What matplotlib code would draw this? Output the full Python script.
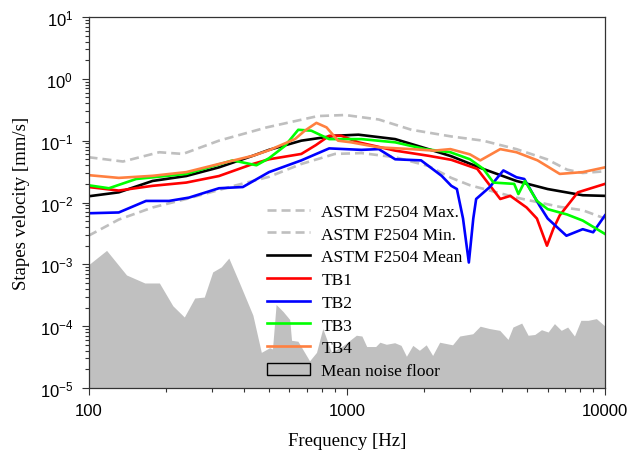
import numpy as np
import matplotlib
matplotlib.use("Agg")
import matplotlib.pyplot as plt
import matplotlib.patches as mpatches
from matplotlib.ticker import FuncFormatter, FixedLocator, NullFormatter

plt.rcParams['font.family'] = ['Liberation Serif', 'DejaVu Serif']
plt.rcParams['mathtext.fontset'] = 'custom'
plt.rcParams['mathtext.rm'] = 'Liberation Sans'
plt.rcParams['mathtext.it'] = 'Liberation Sans:italic'
plt.rcParams['mathtext.bf'] = 'Liberation Sans:bold'
plt.rcParams['lines.scale_dashes'] = False

# ASTM F2504 reference band
freq_max = [100, 136, 188, 232, 320, 490, 773, 985, 1330, 1780, 2540, 3370, 4540, 5960, 7130, 8200, 10000]
astm_max = [0.054, 0.046, 0.065, 0.061, 0.10, 0.164, 0.25, 0.26, 0.22, 0.15, 0.117, 0.10, 0.073, 0.05, 0.034, 0.03, 0.032]

freq_min = [100, 131, 177, 239, 373, 500, 667, 900, 1140, 1540, 2070, 2540, 3000, 4540, 6680, 8200, 10000]
astm_min = [0.0029, 0.0053, 0.0083, 0.0114, 0.019, 0.026, 0.042, 0.061, 0.063, 0.054, 0.039, 0.025, 0.019, 0.012, 0.0085, 0.0075, 0.0055]

freq_mean = [100, 131, 177, 239, 320, 433, 500, 667, 900, 1110, 1540, 2070, 2540, 3370, 4540, 6000, 8200, 10000]
astm_mean = [0.0126, 0.0146, 0.0223, 0.0268, 0.037, 0.057, 0.071, 0.10, 0.12, 0.125, 0.106, 0.073, 0.056, 0.035, 0.0223, 0.0165, 0.0131, 0.0128]

# temporal bone measurements
freq_tb1 = [100, 131, 177, 239, 320, 433, 500, 667, 760, 855, 952, 1110, 1540, 2070, 2540, 3200, 3930, 4300, 4970, 5450, 5960, 6300, 6680, 7850, 10000]
tb1 = [0.0178, 0.0156, 0.0186, 0.021, 0.0268, 0.042, 0.05, 0.061, 0.085, 0.12, 0.12, 0.094, 0.069, 0.057, 0.049, 0.035, 0.0114, 0.0128, 0.0083, 0.0055, 0.002, 0.0037, 0.0062, 0.0146, 0.02]

freq_tb2 = [100, 131, 167, 205, 245, 320, 396, 500, 667, 855, 1140, 1330, 1540, 1940, 2330, 2540, 2670, 2820, 2970, 3090, 3170, 3580, 4040, 4540, 4870, 5580, 6000, 7090, 8200, 9000, 10000]
tb2 = [0.0067, 0.0069, 0.0106, 0.0106, 0.012, 0.017, 0.0178, 0.031, 0.048, 0.075, 0.071, 0.073, 0.05, 0.048, 0.027, 0.0186, 0.0165, 0.0055, 0.00107, 0.0055, 0.0114, 0.0178, 0.033, 0.0256, 0.024, 0.0089, 0.0055, 0.0029, 0.0037, 0.0033, 0.0062]

freq_tb3 = [100, 120, 153, 239, 362, 447, 500, 576, 649, 729, 855, 1010, 1140, 1540, 2010, 2520, 3000, 3380, 3700, 4450, 4620, 4900, 5450, 6000, 7130, 8200, 10000]
tb3 = [0.019, 0.017, 0.024, 0.029, 0.048, 0.040, 0.052, 0.082, 0.15, 0.145, 0.106, 0.106, 0.106, 0.094, 0.073, 0.065, 0.05, 0.035, 0.021, 0.02, 0.0137, 0.0223, 0.0106, 0.0078, 0.0064, 0.0051, 0.0031]

freq_tb4 = [100, 131, 177, 239, 320, 433, 500, 630, 688, 763, 835, 925, 1040, 1330, 1780, 2180, 2520, 3000, 3290, 3930, 4540, 5480, 6680, 8200, 10000]
tb4 = [0.0277, 0.025, 0.027, 0.031, 0.042, 0.057, 0.07, 0.106, 0.145, 0.194, 0.164, 0.10, 0.094, 0.078, 0.073, 0.069, 0.073, 0.06, 0.048, 0.073, 0.065, 0.048, 0.029, 0.031, 0.037]

freq_noise = [100, 118, 141, 166, 189, 213, 236, 259, 282, 304, 328, 351, 386, 435, 469, 505, 518, 535, 569, 604,
              614, 650, 721, 767, 811, 877, 975, 1094, 1150, 1200, 1300, 1350, 1430, 1540, 1630, 1710, 1810, 1920, 2040, 2160,
              2300, 2580, 2750, 3090, 3300, 3580, 3930, 4230, 4420, 4780, 5060, 5370, 5700, 6050, 6400, 6800, 7200, 7650, 8100, 8640,
              9300, 10000]
noise = [0.00095, 0.00165, 0.00066, 0.00049, 0.00049, 0.00021, 0.000138, 0.00028, 0.00029, 0.00074,
         0.00089, 0.00124, 0.00049, 0.000148, 3.7e-5, 4.4e-5, 4.2e-5, 0.00022, 0.00017, 0.000126,
         5.8e-5, 5.6e-5, 2.7e-5, 3.7e-5, 9e-5, 3.7e-5, 4.8e-5, 7e-5, 6.8e-5, 4.6e-5,
         4.6e-5, 5.4e-5, 5e-5, 5.3e-5, 4.8e-5, 3.2e-5, 4.8e-5, 4.0e-5, 4.9e-5, 3.3e-5,
         5.4e-5, 4.9e-5, 6.8e-5, 7.4e-5, 9.8e-5, 9e-5, 8.4e-5, 6e-5, 9.5e-5, 1.1e-4,
         7e-5, 7.2e-5, 8.6e-5, 7.9e-5, 1.08e-4, 8.4e-5, 9.5e-5, 6.8e-5, 1.22e-4, 1.22e-4,
         1.3e-4, 1.0e-4]

x_ticks = [100, 1000, 10000]
y_ticks = [1e-5, 1e-4, 1e-3, 1e-2, 1e-1, 1, 10]

gray_fill = '#c0c0c0'
gray_dash = '#bfbfbf'
lw = 1.9

fig = plt.figure(figsize=(6.28, 4.6), dpi=100)
ax = fig.add_axes([88.5 / 628, 1 - 389 / 460, 516.5 / 628, 371 / 460])

ax.fill_between(freq_noise, 1e-5, noise, facecolor=gray_fill, linewidth=0)
h_max, = ax.plot(freq_max, astm_max, color=gray_dash, lw=lw, dashes=(6.5, 3.6))
h_min, = ax.plot(freq_min, astm_min, color=gray_dash, lw=lw, dashes=(6.5, 3.6))
h_mean, = ax.plot(freq_mean, astm_mean, color='black', lw=lw)
h1, = ax.plot(freq_tb1, tb1, color='#ff0000', lw=lw)
h2, = ax.plot(freq_tb2, tb2, color='#0000ff', lw=lw)
h3, = ax.plot(freq_tb3, tb3, color='#00ff00', lw=lw)
h4, = ax.plot(freq_tb4, tb4, color='#ff8040', lw=lw)
h_noise = mpatches.Patch(facecolor=gray_fill, edgecolor='black', linewidth=1.0)

ax.set_xscale('log')
ax.set_yscale('log')
ax.set_xlim(100, 10000)
ax.set_ylim(1e-5, 10)

minor_x = [m * d for d in (100, 1000) for m in range(2, 10)]
minor_y = [m * d for d in (1e-5, 1e-4, 1e-3, 1e-2, 1e-1, 1) for m in range(2, 10)]
ax.xaxis.set_major_locator(FixedLocator(x_ticks))
ax.xaxis.set_minor_locator(FixedLocator(minor_x))
ax.xaxis.set_minor_formatter(NullFormatter())
ax.xaxis.set_major_formatter(FuncFormatter(lambda v, p: '%d' % v))
ax.yaxis.set_major_locator(FixedLocator(y_ticks))
ax.yaxis.set_minor_locator(FixedLocator(minor_y))
ax.yaxis.set_minor_formatter(NullFormatter())
ax.yaxis.set_major_formatter(FuncFormatter(lambda v, p: r'$\mathregular{10^{%d}}$' % round(np.log10(v))))

ax.tick_params(which='both', direction='out', top=False, right=False, color='#333333', width=0.8)
ax.tick_params(which='major', length=5, labelsize=12, pad=6)
ax.tick_params(which='minor', length=3)
for lab in ax.get_xticklabels() + ax.get_yticklabels():
    lab.set_fontfamily('Liberation Sans')
for sp in ax.spines.values():
    sp.set_color('#333333')
    sp.set_linewidth(0.9)

ax.set_xlabel('Frequency [Hz]', fontsize=13.5, labelpad=10)
ax.set_ylabel('Stapes velocity [mm/s]', fontsize=13.5, labelpad=7)

ax.legend([h_max, h_min, h_mean, h1, h2, h3, h4, h_noise],
          ['ASTM F2504 Max.', 'ASTM F2504 Min.', 'ASTM F2504 Mean', 'TB1', 'TB2', 'TB3', 'TB4', 'Mean noise floor'],
          loc='upper left', bbox_to_anchor=(0.345, 0.497), frameon=False, fontsize=12.5,
          handlelength=2.5, handletextpad=0.65, labelspacing=0.38, borderpad=0, borderaxespad=0)

fig.savefig('out.png', dpi=100)
